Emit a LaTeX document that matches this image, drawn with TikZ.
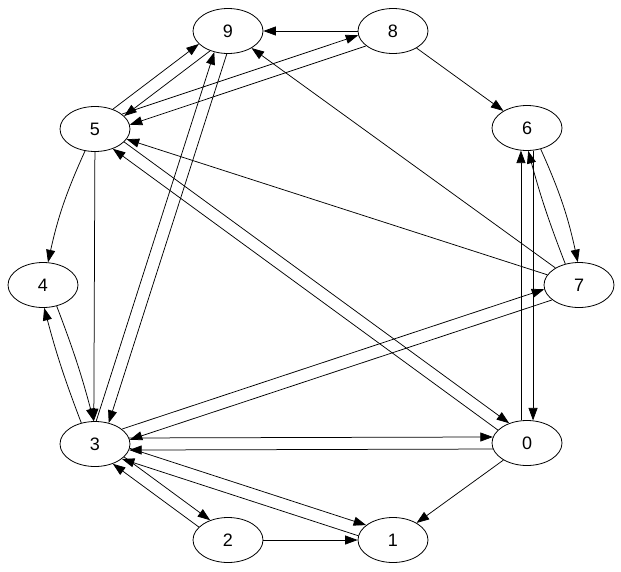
\documentclass[tikz,border=0pt]{standalone}
\usepackage{fontspec}
\setmainfont{Liberation Sans}
\usetikzlibrary{arrows.meta,shapes.geometric}
\begin{document}
\begin{tikzpicture}[x=1pt,y=-1pt,
  nd/.style={draw,ellipse,minimum width=70pt,minimum height=45pt,inner sep=0pt,line width=0.8pt,font=\fontsize{18}{20}\selectfont},
  ed/.style={-{Triangle[length=12.5pt,width=9pt]},line width=0.75pt}]
\useasboundingbox (0,0) rectangle (621,571);
\node[nd] (n9) at (228,31) {9};
\node[nd] (n8) at (393,31) {8};
\node[nd] (n5) at (95,129) {5};
\node[nd] (n6) at (527,128) {6};
\node[nd] (n4) at (43,285) {4};
\node[nd] (n7) at (579,285) {7};
\node[nd] (n3) at (95,444) {3};
\node[nd] (n0) at (527,443) {0};
\node[nd] (n2) at (228,540) {2};
\node[nd] (n1) at (393,540) {1};
% single edges
\draw[ed] (n8) -- (n9);
\draw[ed] (n8) -- (n6);
\draw[ed] (n7) -- (n9);
\draw[ed] (n7) -- (n5);
\draw[ed] (n5) to[bend right=6] (n4);
\draw[ed] (n5) -- (n3.93);
\draw[ed] (n0) -- (n1);
\draw[ed] (n2) -- (n1);
% paired edges
\draw[ed] (n3.10) -- (n0.170);
\draw[ed] (n0.190) -- (n3.350);
\draw[ed] (n3.87) -- (n9.237);
\draw[ed] (n9.267) -- (n3.57);
\draw[ed] (n5.29) -- (n8.187);
\draw[ed] (n8.209) -- (n5.7);
\draw[ed] (n5.48) -- (n9.204);
\draw[ed] (n9.228) -- (n5.24);
\draw[ed] (n0.156) -- (n5.312);
\draw[ed] (n5.336) -- (n0.132);
\draw[ed] (n0.105) -- (n6.255);
\draw[ed] (n6.285) -- (n0.75);
\draw[ed] (n6.303) to[bend left=6] (n7.93);
\draw[ed] (n7.123) to[bend left=3] (n6.273);
\draw[ed] (n3.29) -- (n7.187);
\draw[ed] (n7.209) -- (n3.7);
\draw[ed] (n3.353) -- (n1.151);
\draw[ed] (n1.173) -- (n3.331);
\draw[ed] (n3.336) -- (n2.132);
\draw[ed] (n2.156) -- (n3.312);
\draw[ed] (n3.123) to[bend left=3] (n4.273);
\draw[ed] (n4.303) to[bend left=3] (n3.93);
\end{tikzpicture}
\end{document}
